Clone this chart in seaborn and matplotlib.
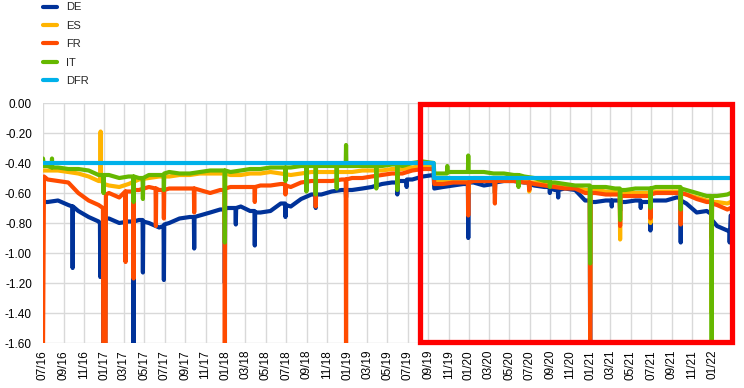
import matplotlib
matplotlib.use("Agg")
import matplotlib.pyplot as plt
import matplotlib.dates as mdates
from matplotlib.lines import Line2D
from matplotlib.patches import Rectangle
import seaborn as sns
import pandas as pd

# monthly readings (mid-month), Jul 2016 .. Feb 2022
de_base = [-0.66, -0.65, -0.68, -0.72, -0.76, -0.79, -0.77, -0.80, -0.79, -0.78, -0.80, -0.83,
           -0.80, -0.77, -0.76, -0.75, -0.73, -0.71, -0.70, -0.69, -0.72, -0.73, -0.72, -0.67,
           -0.69, -0.64, -0.61, -0.61, -0.59, -0.58, -0.58, -0.57, -0.56, -0.54, -0.53, -0.52,
           -0.51, -0.49, -0.48, -0.56, -0.55, -0.54, -0.53, -0.55, -0.54, -0.52, -0.52, -0.53,
           -0.55, -0.56, -0.58, -0.57, -0.58, -0.65, -0.66, -0.65, -0.65, -0.66, -0.65, -0.66,
           -0.65, -0.65, -0.63, -0.67, -0.73, -0.72, -0.82, -0.85]
es_base = [-0.45, -0.45, -0.46, -0.47, -0.49, -0.52, -0.55, -0.56, -0.54, -0.51, -0.50, -0.49,
           -0.49, -0.48, -0.48, -0.47, -0.47, -0.47, -0.48, -0.48, -0.47, -0.47, -0.46, -0.47,
           -0.48, -0.47, -0.46, -0.46, -0.46, -0.46, -0.46, -0.45, -0.45, -0.45, -0.44, -0.44,
           -0.43, -0.42, -0.42, -0.52, -0.51, -0.51, -0.50, -0.50, -0.51, -0.51, -0.51, -0.52,
           -0.53, -0.54, -0.55, -0.55, -0.56, -0.58, -0.58, -0.59, -0.59, -0.60, -0.60, -0.60,
           -0.59, -0.59, -0.59, -0.61, -0.63, -0.65, -0.66, -0.67]
fr_base = [-0.51, -0.52, -0.53, -0.60, -0.65, -0.68, -0.60, -0.63, -0.59, -0.58, -0.56, -0.58,
           -0.57, -0.57, -0.57, -0.58, -0.60, -0.58, -0.56, -0.56, -0.56, -0.55, -0.55, -0.54,
           -0.56, -0.53, -0.52, -0.52, -0.52, -0.51, -0.50, -0.50, -0.49, -0.48, -0.47, -0.47,
           -0.45, -0.44, -0.44, -0.54, -0.53, -0.53, -0.52, -0.52, -0.52, -0.52, -0.52, -0.53,
           -0.54, -0.55, -0.56, -0.57, -0.57, -0.60, -0.60, -0.61, -0.61, -0.62, -0.62, -0.62,
           -0.60, -0.60, -0.60, -0.61, -0.64, -0.66, -0.68, -0.71]
it_base = [-0.42, -0.43, -0.44, -0.44, -0.45, -0.48, -0.48, -0.50, -0.49, -0.50, -0.48, -0.48,
           -0.46, -0.47, -0.47, -0.46, -0.45, -0.45, -0.46, -0.45, -0.44, -0.44, -0.43, -0.43,
           -0.43, -0.42, -0.42, -0.42, -0.42, -0.42, -0.42, -0.42, -0.42, -0.42, -0.41, -0.42,
           -0.40, -0.39, -0.40, -0.47, -0.46, -0.46, -0.46, -0.46, -0.47, -0.47, -0.48, -0.49,
           -0.50, -0.52, -0.53, -0.54, -0.55, -0.55, -0.56, -0.56, -0.57, -0.58, -0.57, -0.57,
           -0.56, -0.56, -0.56, -0.58, -0.60, -0.62, -0.62, -0.61]

# individual days: start/end, spikes around month/quarter/year ends, DFR cut
de_days = [("2016-07-01", -0.66), ("2016-09-27", -0.69), ("2016-09-28", -1.10), ("2016-09-29", -0.69),
           ("2016-12-19", -0.80), ("2016-12-20", -1.16), ("2016-12-21", -0.82),
           ("2016-12-28", -0.80), ("2016-12-29", -1.65), ("2017-01-04", -1.65), ("2017-01-05", -0.77),
           ("2017-03-29", -0.79), ("2017-03-30", -1.65), ("2017-03-31", -0.79),
           ("2017-04-26", -0.78), ("2017-04-27", -1.13), ("2017-04-28", -0.79),
           ("2017-06-28", -0.82), ("2017-06-29", -1.18), ("2017-06-30", -0.81),
           ("2017-09-27", -0.76), ("2017-09-28", -0.97), ("2017-09-29", -0.76),
           ("2017-12-28", -0.71), ("2017-12-29", -1.20), ("2017-12-30", -0.70),
           ("2018-01-30", -0.70), ("2018-01-31", -0.81), ("2018-02-01", -0.70),
           ("2018-03-28", -0.72), ("2018-03-29", -0.95), ("2018-03-30", -0.73),
           ("2018-06-28", -0.67), ("2018-06-29", -0.76), ("2018-06-30", -0.68),
           ("2018-09-27", -0.61), ("2018-09-28", -0.70), ("2018-09-29", -0.61),
           ("2018-12-27", -0.58), ("2018-12-28", -0.63), ("2018-12-29", -0.58),
           ("2019-05-30", -0.53), ("2019-05-31", -0.61), ("2019-06-01", -0.52),
           ("2019-06-27", -0.52), ("2019-06-28", -0.56), ("2019-06-29", -0.51),
           ("2019-09-17", -0.48), ("2019-09-19", -0.57),
           ("2019-12-29", -0.54), ("2019-12-30", -0.90), ("2019-12-31", -0.53),
           ("2020-03-18", -0.54), ("2020-03-19", -0.60), ("2020-03-20", -0.53),
           ("2020-06-29", -0.53), ("2020-06-30", -0.58), ("2020-07-01", -0.54),
           ("2020-08-30", -0.56), ("2020-08-31", -0.60), ("2020-09-01", -0.57),
           ("2020-09-24", -0.58), ("2020-09-25", -0.63), ("2020-09-26", -0.58),
           ("2020-12-29", -0.65), ("2020-12-30", -1.65), ("2020-12-31", -0.66),
           ("2021-03-04", -0.65), ("2021-03-05", -0.69), ("2021-03-06", -0.65),
           ("2021-03-29", -0.65), ("2021-03-30", -0.72), ("2021-03-31", -0.66),
           ("2021-05-30", -0.65), ("2021-05-31", -0.70), ("2021-06-01", -0.66),
           ("2021-06-28", -0.66), ("2021-06-29", -0.85), ("2021-06-30", -0.65),
           ("2021-09-27", -0.63), ("2021-09-28", -0.93), ("2021-09-29", -0.65),
           ("2021-12-29", -0.74), ("2021-12-30", -0.95), ("2021-12-31", -0.78),
           ("2022-02-21", -0.85), ("2022-02-22", -0.93), ("2022-02-25", -0.75)]
es_days = [("2016-07-01", -0.45),
           ("2016-12-20", -0.52), ("2016-12-21", -0.19), ("2016-12-22", -0.52),
           ("2016-12-29", -0.53), ("2016-12-30", -0.60), ("2016-12-31", -0.54),
           ("2017-12-28", -0.47), ("2017-12-29", -0.80), ("2017-12-30", -0.47),
           ("2019-09-17", -0.42), ("2019-09-19", -0.52),
           ("2019-12-29", -0.51), ("2019-12-30", -0.60), ("2019-12-31", -0.51),
           ("2020-03-18", -0.51), ("2020-03-19", -0.60), ("2020-03-20", -0.51),
           ("2020-06-29", -0.52), ("2020-06-30", -0.59), ("2020-07-01", -0.53),
           ("2020-12-29", -0.58), ("2020-12-30", -1.40), ("2020-12-31", -0.58),
           ("2021-03-29", -0.59), ("2021-03-30", -0.91), ("2021-03-31", -0.60),
           ("2021-06-28", -0.60), ("2021-06-29", -0.80), ("2021-06-30", -0.60),
           ("2021-09-27", -0.59), ("2021-09-28", -0.78), ("2021-09-29", -0.60),
           ("2021-12-29", -0.65), ("2021-12-30", -1.40), ("2021-12-31", -0.66),
           ("2022-02-25", -0.66)]
fr_days = [("2016-07-01", -1.65), ("2016-07-04", -0.49),
           ("2016-12-28", -0.70), ("2016-12-29", -1.65), ("2017-01-05", -1.65), ("2017-01-06", -0.61),
           ("2017-03-05", -0.59), ("2017-03-06", -1.06), ("2017-03-07", -0.59),
           ("2017-03-29", -0.59), ("2017-03-30", -1.17), ("2017-03-31", -0.58),
           ("2017-06-04", -0.57), ("2017-06-05", -0.82), ("2017-06-06", -0.57),
           ("2017-06-28", -0.58), ("2017-06-29", -0.77), ("2017-06-30", -0.58),
           ("2017-09-27", -0.57), ("2017-09-28", -0.73), ("2017-09-29", -0.57),
           ("2017-12-28", -0.58), ("2017-12-29", -1.65), ("2017-12-30", -0.57),
           ("2018-03-28", -0.56), ("2018-03-29", -0.66), ("2018-03-30", -0.56),
           ("2018-06-28", -0.54), ("2018-06-29", -0.61), ("2018-06-30", -0.55),
           ("2018-09-27", -0.52), ("2018-09-28", -0.69), ("2018-09-29", -0.52),
           ("2018-12-27", -0.51), ("2018-12-28", -1.65), ("2018-12-29", -0.51),
           ("2019-05-30", -0.47), ("2019-05-31", -0.55), ("2019-06-01", -0.47),
           ("2019-09-17", -0.44), ("2019-09-19", -0.54),
           ("2019-12-29", -0.53), ("2019-12-30", -0.75), ("2019-12-31", -0.53),
           ("2020-03-18", -0.52), ("2020-03-19", -0.67), ("2020-03-20", -0.52),
           ("2020-06-29", -0.53), ("2020-06-30", -0.58), ("2020-07-01", -0.53),
           ("2020-12-29", -0.60), ("2020-12-30", -1.65), ("2020-12-31", -0.60),
           ("2021-03-29", -0.61), ("2021-03-30", -0.82), ("2021-03-31", -0.62),
           ("2021-06-28", -0.62), ("2021-06-29", -0.77), ("2021-06-30", -0.61),
           ("2021-09-27", -0.60), ("2021-09-28", -0.81), ("2021-09-29", -0.60),
           ("2021-12-29", -0.66), ("2021-12-30", -0.90), ("2021-12-31", -0.67),
           ("2022-02-25", -0.70)]
it_days = [("2016-07-01", -0.37), ("2016-07-04", -0.42),
           ("2016-07-27", -0.43), ("2016-07-28", -0.37), ("2016-07-29", -0.43),
           ("2016-12-29", -0.48), ("2016-12-30", -0.60), ("2016-12-31", -0.48),
           ("2017-03-29", -0.49), ("2017-03-30", -0.66), ("2017-03-31", -0.49),
           ("2017-04-26", -0.50), ("2017-04-27", -0.64), ("2017-04-28", -0.50),
           ("2017-06-28", -0.48), ("2017-06-29", -0.58), ("2017-06-30", -0.47),
           ("2017-12-28", -0.45), ("2017-12-29", -0.93), ("2017-12-30", -0.45),
           ("2018-06-28", -0.43), ("2018-06-29", -0.52), ("2018-06-30", -0.43),
           ("2018-08-30", -0.42), ("2018-08-31", -0.59), ("2018-09-01", -0.42),
           ("2018-09-27", -0.42), ("2018-09-28", -0.61), ("2018-09-29", -0.42),
           ("2018-11-29", -0.42), ("2018-11-30", -0.57), ("2018-12-01", -0.42),
           ("2018-12-27", -0.42), ("2018-12-28", -0.28), ("2018-12-29", -0.42),
           ("2019-03-28", -0.42), ("2019-03-29", -0.57), ("2019-03-30", -0.42),
           ("2019-05-30", -0.41), ("2019-05-31", -0.58), ("2019-06-01", -0.41),
           ("2019-09-17", -0.40), ("2019-09-19", -0.47),
           ("2019-10-27", -0.47), ("2019-10-28", -0.42), ("2019-10-29", -0.46),
           ("2019-12-29", -0.46), ("2019-12-30", -0.35), ("2019-12-31", -0.46),
           ("2020-05-28", -0.48), ("2020-05-29", -0.56), ("2020-05-30", -0.48),
           ("2020-08-30", -0.52), ("2020-08-31", -0.56), ("2020-09-01", -0.53),
           ("2020-12-29", -0.55), ("2020-12-30", -1.07), ("2020-12-31", -0.56),
           ("2021-03-29", -0.57), ("2021-03-30", -0.78), ("2021-03-31", -0.58),
           ("2021-06-28", -0.57), ("2021-06-29", -0.70), ("2021-06-30", -0.57),
           ("2021-09-27", -0.56), ("2021-09-28", -0.71), ("2021-09-29", -0.57),
           ("2021-12-29", -0.62), ("2021-12-30", -1.65), ("2021-12-31", -0.62),
           ("2022-02-25", -0.60)]
dfr_days = [("2016-07-01", -0.40), ("2019-09-17", -0.40), ("2019-09-18", -0.50), ("2022-02-25", -0.50)]

series = ["DE", "ES", "FR", "IT", "DFR"]
colors = ["#003299", "#FFB400", "#FF4B00", "#65B800", "#00B1EA"]
tick_labels = ["07/16", "09/16", "11/16", "01/17", "03/17", "05/17", "07/17", "09/17", "11/17",
               "01/18", "03/18", "05/18", "07/18", "09/18", "11/18", "01/19", "03/19", "05/19",
               "07/19", "09/19", "11/19", "01/20", "03/20", "05/20", "07/20", "09/20", "11/20",
               "01/21", "03/21", "05/21", "07/21", "09/21", "11/21", "01/22"]

base_dates = pd.date_range("2016-07-01", periods=68, freq="MS") + pd.Timedelta(days=14)


def frame(name, base, days):
    dates = list(base_dates) + [pd.Timestamp(d) for d, _ in days]
    values = list(base) + [v for _, v in days]
    return pd.DataFrame({"date": dates, "value": values, "series": name})


df = pd.concat([
    frame("DE", de_base, de_days),
    frame("ES", es_base, es_days),
    frame("FR", fr_base, fr_days),
    frame("IT", it_base, it_days),
    pd.DataFrame({"date": [pd.Timestamp(d) for d, _ in dfr_days],
                  "value": [v for _, v in dfr_days], "series": "DFR"}),
]).sort_values(["series", "date"])

sns.set_theme(style="whitegrid")
plt.rcParams["font.family"] = ["Liberation Sans", "DejaVu Sans"]

fig = plt.figure(figsize=(7.44, 3.88), dpi=100)
ax = fig.add_axes([43 / 744, 45 / 388, 689 / 744, 240 / 388])

sns.lineplot(data=df, x="date", y="value", hue="series", hue_order=series,
             palette=dict(zip(series, colors)), linewidth=3.0, estimator=None,
             legend=False, ax=ax)

ax.set_xlim(pd.Timestamp("2016-07-01"), pd.Timestamp("2022-03-01"))
ax.set_ylim(-1.6, 0.0)
ax.set_yticks([-1.6, -1.4, -1.2, -1.0, -0.8, -0.6, -0.4, -0.2, 0.0])
ax.yaxis.set_major_formatter(matplotlib.ticker.FormatStrFormatter("%.2f"))
ticks = pd.date_range("2016-07-01", periods=len(tick_labels), freq="2MS")
ax.set_xticks(ticks)
ax.set_xticklabels(tick_labels, rotation=90)
ax.tick_params(axis="both", length=0, labelsize=8.5, colors="black")
ax.tick_params(axis="y", pad=8)
ax.tick_params(axis="x", pad=5)
ax.set_xlabel("")
ax.set_ylabel("")
ax.grid(True, color="#D9D9D9", linewidth=1.0)
for s in ax.spines.values():
    s.set_visible(False)
ax.set_facecolor("white")

# highlighted period
x0 = mdates.date2num(pd.Timestamp("2019-08-06"))
x1 = mdates.date2num(pd.Timestamp("2022-03-01"))
ax.add_patch(Rectangle((x0, -1.595), x1 - x0, 1.59, fill=False, edgecolor="#FF0000",
                       linewidth=3.8, clip_on=False, zorder=10))

handles = [Line2D([], [], color=c, linewidth=3) for c in colors]
fig.legend(handles, series, loc="upper left", bbox_to_anchor=(43 / 744, 1 - 2.5 / 388),
           frameon=False, fontsize=8, handlelength=1.3, handletextpad=0.75,
           labelspacing=0.75, borderpad=0, borderaxespad=0)

fig.savefig("out.png", dpi=100, facecolor="white")
